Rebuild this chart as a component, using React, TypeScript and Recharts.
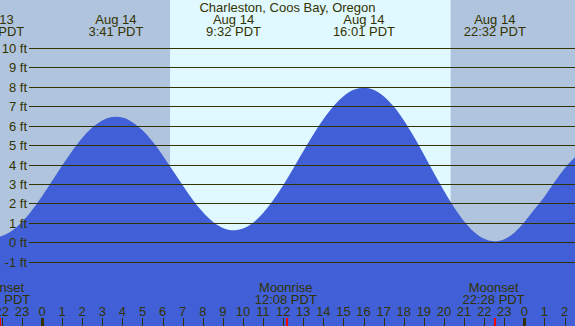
import React from 'react';
import { ComposedChart, Area, XAxis, YAxis, ReferenceArea, ReferenceLine } from 'recharts';

const title = 'Charleston, Coos Bay, Oregon';

const tideHours = [-2.09, -2, -1.5, -1, -0.5, 0, 0.5, 1, 1.5, 2, 2.5, 3, 3.5, 3.68, 4, 4.5, 5, 5.5, 6, 6.5, 7, 7.5, 8, 8.5, 9, 9.53, 10, 10.5, 11, 11.5, 12, 12.5, 13, 13.5, 14, 14.5, 15, 15.5, 16.02, 16.5, 17, 17.5, 18, 18.5, 19, 19.5, 20, 20.5, 21, 21.5, 22, 22.53, 23, 23.5, 24, 24.5, 25, 25.5, 26, 26.52];
const tideFeet = [0.30, 0.33, 0.60, 1.05, 1.65, 2.37, 3.16, 3.95, 4.70, 5.37, 5.90, 6.27, 6.45, 6.46, 6.42, 6.18, 5.76, 5.18, 4.48, 3.71, 2.93, 2.19, 1.56, 1.06, 0.74, 0.62, 0.71, 1.01, 1.51, 2.16, 2.94, 3.80, 4.68, 5.55, 6.33, 7.00, 7.51, 7.84, 7.95, 7.84, 7.51, 6.98, 6.28, 5.44, 4.52, 3.57, 2.65, 1.80, 1.08, 0.53, 0.18, 0.05, 0.16, 0.50, 1.05, 1.70, 2.35, 3.10, 3.80, 4.37];

const hourTicks = [-2, -1, 0, 1, 2, 3, 4, 5, 6, 7, 8, 9, 10, 11, 12, 13, 14, 15, 16, 17, 18, 19, 20, 21, 22, 23, 24, 25, 26];
const footTicks = [-1, 0, 1, 2, 3, 4, 5, 6, 7, 8, 9, 10];

const tideEventHours = [-2.43, 3.68, 9.53, 16.02, 22.53];
const tideEventDates = ['Aug 13', 'Aug 14', 'Aug 14', 'Aug 14', 'Aug 14'];
const tideEventTimes = ['21:34 PDT', '3:41 PDT', '9:32 PDT', '16:01 PDT', '22:32 PDT'];

const moonEventHours = [-2.13, 12.13, 22.47];
const moonEventNames = ['Moonset', 'Moonrise', 'Moonset'];
const moonEventTimes = ['21:52 PDT', '12:08 PDT', '22:28 PDT'];

const sunrise = 6.37;
const sunset = 20.33;

const xDomain = [-2.09, 26.52];
const yDomain = [-4.3, 12.46];

const W = 575;
const H = 326;
const ink = '#333300';
const nightColor = '#b0c4de';
const dayColor = '#e0f8ff';
const tideColor = '#4160d8';
const font = '"Liberation Sans", Arial, sans-serif';

const data = tideHours.map((h, i) => ({ h, ft: tideFeet[i] }));

const FootTick = (props: any) => {
  const { y, payload } = props;
  const yy = Math.round(y) + 0.5;
  return (
    <g>
      <text x={27} y={yy + 4} textAnchor="end" fontSize={13} fill={ink} fontFamily={font}>
        {`${payload.value} ft`}
      </text>
      <line x1={29} x2={W} y1={yy} y2={yy} stroke={ink} strokeWidth={1} />
    </g>
  );
};

const HourTick = (props: any) => {
  const { x, payload } = props;
  const h = payload.value as number;
  const label = String(((h % 24) + 24) % 24);
  const major = label === '0';
  const xx = Math.round(x) + 0.5;
  return (
    <g>
      <text x={x} y={316} textAnchor="middle" fontSize={13} fill={ink} fontFamily={font}>
        {label}
      </text>
      <line x1={xx} x2={xx} y1={318} y2={H} stroke={ink} strokeWidth={major ? 3 : 1} />
    </g>
  );
};

const EventLabel = (props: any) => {
  const { viewBox, i } = props;
  const x = viewBox?.x ?? 0;
  return (
    <g>
      <text x={x} y={24} textAnchor="middle" fontSize={13} fill={ink} fontFamily={font}>
        {tideEventDates[i]}
      </text>
      <text x={x} y={36} textAnchor="middle" fontSize={13} fill={ink} fontFamily={font}>
        {tideEventTimes[i]}
      </text>
    </g>
  );
};

const MoonLabel = (props: any) => {
  const { viewBox, i } = props;
  const x = viewBox?.x ?? 0;
  const xx = Math.round(x) + 1;
  return (
    <g>
      <text x={x} y={292} textAnchor="middle" fontSize={13} fill={ink} fontFamily={font}>
        {moonEventNames[i]}
      </text>
      <text x={x} y={304} textAnchor="middle" fontSize={13} fill={ink} fontFamily={font}>
        {moonEventTimes[i]}
      </text>
      <line x1={xx} x2={xx} y1={318} y2={H} stroke="#ff0000" strokeWidth={2} />
    </g>
  );
};

export default function App() {
  return (
    <div style={{ position: 'absolute', left: 0, top: 0, width: W, height: H, background: nightColor, overflow: 'hidden' }}>
      <ComposedChart width={W} height={H} data={data} margin={{ top: 0, right: 0, bottom: 0, left: 0 }}>
        <ReferenceArea
          xAxisId="hours"
          x1={sunrise}
          x2={sunset}
          y1={yDomain[0]}
          y2={yDomain[1]}
          fill={dayColor}
          fillOpacity={1}
          stroke="none"
          ifOverflow="hidden"
        />
        <Area
          xAxisId="hours"
          type="monotone"
          dataKey="ft"
          fill={tideColor}
          fillOpacity={1}
          stroke="none"
          baseValue={yDomain[0]}
          isAnimationActive={false}
          dot={false}
          activeDot={false}
        />
        <XAxis
          xAxisId="hours"
          type="number"
          dataKey="h"
          domain={xDomain}
          allowDataOverflow
          ticks={hourTicks}
          interval={0}
          mirror
          height={30}
          axisLine={false}
          tickLine={false}
          tick={HourTick}
        />
        <YAxis
          type="number"
          domain={yDomain}
          allowDataOverflow
          ticks={footTicks}
          interval={0}
          mirror
          width={30}
          axisLine={false}
          tickLine={false}
          tick={FootTick}
        />
        {tideEventHours.map((h, i) => (
          <ReferenceLine
            key={`ev${i}`}
            xAxisId="hours"
            x={h}
            stroke="none"
            ifOverflow="visible"
            label={(p: any) => <EventLabel {...p} i={i} />}
          />
        ))}
        {moonEventHours.map((h, i) => (
          <ReferenceLine
            key={`moon${i}`}
            xAxisId="hours"
            x={h}
            stroke="none"
            ifOverflow="visible"
            label={(p: any) => <MoonLabel {...p} i={i} />}
          />
        ))}
      </ComposedChart>
      <svg width={W} height={20} style={{ position: 'absolute', left: 0, top: 0, pointerEvents: 'none' }}>
        <text x={W / 2} y={12} textAnchor="middle" fontSize={13} fill={ink} fontFamily={font}>
          {title}
        </text>
      </svg>
    </div>
  );
}
